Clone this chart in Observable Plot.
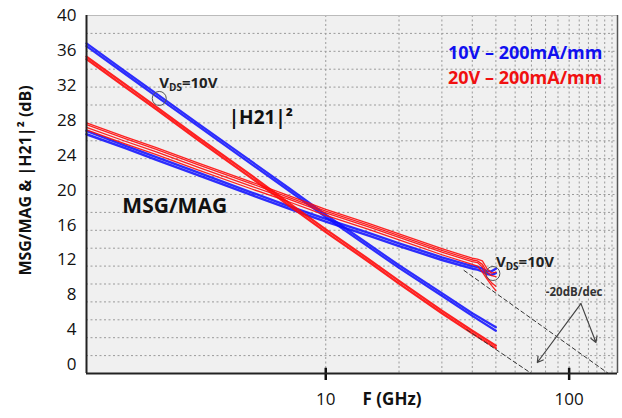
<!DOCTYPE html>
<html><head><meta charset="utf-8">
<script src="https://cdn.jsdelivr.net/npm/d3@7"></script>
<script src="https://cdn.jsdelivr.net/npm/@observablehq/plot@0.6"></script>
<style>
body{margin:0;background:#fff;}
#chart{width:622px;height:418px;}
</style></head><body><div id="chart"></div>
<script>
// ---- axes / ticks ----
const xDomain = [1.04, 158];
const yDomain = [-1, 40];
const yTicks = [0, 4, 8, 12, 16, 20, 24, 28, 32, 36, 40];
const xTicks = [10, 100];
const xGridValues = [10, 20, 30, 40, 50, 60, 70, 80, 90, 100, 110, 120, 130, 140, 150];

// ---- |H21|^2 curves ----
const freqH21 = [1.04, 1.5, 2, 3, 5, 7, 10, 15, 20, 30, 40, 50];
const h21_10V_a = [36.5, 33.3, 30.8, 27.3, 22.9, 20.0, 16.9, 13.5, 11.1, 7.9, 5.6, 3.9];
const h21_10V_b = [36.8, 33.6, 31.1, 27.6, 23.2, 20.3, 17.2, 13.8, 11.4, 8.2, 5.9, 4.3];
const h21_20V_a = [35.0, 31.8, 29.3, 25.7, 21.3, 18.3, 15.2, 11.8, 9.3, 5.9, 3.6, 1.9];
const h21_20V_b = [35.3, 32.1, 29.6, 26.0, 21.6, 18.6, 15.5, 12.1, 9.6, 6.2, 3.9, 2.2];

// ---- MSG/MAG curves ----
const freqMSG = [1.04, 1.5, 2, 3, 5, 7, 10, 15, 20, 30, 40, 42, 44, 46, 48, 50];
const msg_10V_a = [26.4, 24.8, 23.5, 21.7, 19.4, 17.9, 16.4, 14.8, 13.6, 12.0, 11.0, 10.9, 10.7, 10.4, 10.3, 10.5];
const msg_10V_b = [26.8, 25.1, 23.8, 22.0, 19.7, 18.2, 16.7, 15.1, 13.9, 12.3, 11.3, 11.2, 11.0, 10.7, 10.7, 11.0];
const msg_20V_a = [26.9, 25.3, 24.1, 22.3, 20.1, 18.7, 17.1, 15.5, 14.3, 12.6, 11.5, 11.3, 10.6, 9.8, 9.1, 8.5];
const msg_20V_b = [27.2, 25.6, 24.4, 22.6, 20.4, 19.0, 17.4, 15.8, 14.6, 12.9, 11.8, 11.7, 11.2, 10.0, 9.4, 9.0];
const msg_20V_c = [27.5, 25.9, 24.7, 22.9, 20.7, 19.2, 17.6, 16.0, 14.8, 13.1, 12.0, 11.9, 11.5, 10.6, 10.2, 10.1];
const msg_20V_d = [27.7, 26.1, 24.9, 23.1, 20.9, 19.4, 17.8, 16.2, 15.0, 13.3, 12.2, 12.1, 11.9, 11.0, 10.5, 10.6];

// ---- -20 dB/dec guide lines ----
const guideFreq = [[37, 145], [38, 70]];
const guideVal = [[10.8, -1], [4.0, -1]];

// ---- annotations ----
const legendText = ["10V \u2013 200mA/mm", "20V \u2013 200mA/mm"];
const legendColor = ["#1010f0", "#f01010"];

function rows(freq, vals, trace) {
  return freq.map((f, i) => ({f, v: vals[i], trace}));
}
const h21Blue = [...rows(freqH21, h21_10V_a, "a"), ...rows(freqH21, h21_10V_b, "b")];
const h21Red = [...rows(freqH21, h21_20V_a, "a"), ...rows(freqH21, h21_20V_b, "b")];
const msgBlue = [...rows(freqMSG, msg_10V_a, "a"), ...rows(freqMSG, msg_10V_b, "b")];
const msgRed = [...rows(freqMSG, msg_20V_a, "a"), ...rows(freqMSG, msg_20V_b, "b"),
                ...rows(freqMSG, msg_20V_c, "c"), ...rows(freqMSG, msg_20V_d, "d")];
const guides = guideFreq.flatMap((fs, k) => fs.map((f, i) => ({f, v: guideVal[k][i], id: k})));

const yGrid = d3.range(1, 20).map(k => yDomain[0] + k * (yDomain[1] - yDomain[0]) / 20);

const blue = "#0a0aff";
const red = "#ff0a0a";
const font = "Open Sans";

const chart = Plot.plot({
  width: 622, height: 418,
  marginLeft: 86, marginRight: 5, marginTop: 15, marginBottom: 45,
  style: {fontFamily: font, background: "white", color: "#111", overflow: "visible"},
  x: {type: "log", domain: xDomain},
  y: {domain: yDomain},
  marks: [
    Plot.frame({fill: "#f0f0f0", stroke: null}),
    Plot.ruleY(yGrid, {stroke: "#9a9a9a", strokeDasharray: "2,2.5", strokeWidth: 1}),
    Plot.ruleX(xGridValues, {stroke: "#9a9a9a", strokeDasharray: "2,2.5", strokeWidth: 1}),
    Plot.axisY({ticks: yTicks, tickSize: 0, tickPadding: 10, fontSize: 17, label: null}),
    Plot.axisX({ticks: xTicks, tickSize: 0, tickPadding: 19, fontSize: 17, label: null, tickFormat: d => String(d)}),
    Plot.ruleX(xTicks, {y1: yDomain[0] - 0.8, y2: yDomain[0] + 0.6, stroke: "#111", strokeWidth: 2.5}),
    // curves
    Plot.line(msgBlue, {x: "f", y: "v", z: "trace", stroke: blue, strokeWidth: 2.4, strokeOpacity: 0.85}),
    Plot.line(h21Blue, {x: "f", y: "v", z: "trace", stroke: blue, strokeWidth: 2.2, strokeOpacity: 0.85}),
    Plot.line(h21Red, {x: "f", y: "v", z: "trace", stroke: red, strokeWidth: 2.2, strokeOpacity: 0.9}),
    Plot.line(msgRed, {x: "f", y: "v", z: "trace", stroke: red, strokeWidth: 1.3, strokeOpacity: 0.9}),
    // guides
    Plot.line(guides, {x: "f", y: "v", z: "id", stroke: "#333", strokeWidth: 1, strokeDasharray: "4,3"}),
    Plot.arrow([{x1: 111.8, y1: 7.0, x2: 74, y2: 0.26}, {x1: 111.8, y1: 7.0, x2: 128.9, y2: 2.55}],
      {x1: "x1", y1: "y1", x2: "x2", y2: "y2", stroke: "#444", strokeWidth: 1.2, headLength: 8}),
    Plot.text(["-20dB/dec"], {x: 104.8, y: 8.3, fontSize: 11.5, fontWeight: "bold", fill: "#333", textAnchor: "middle"}),
    // VDS markers
    Plot.dot([{f: 2.07, v: 30.5}, {f: 48.6, v: 10.45}], {x: "f", y: "v", r: 7, stroke: "#555", strokeWidth: 1, fill: "none"}),
    Plot.text([{f: 2.07, v: 32.2}, {f: 50, v: 11.7}], {x: "f", y: "v", text: () => "VDS=10V", fontSize: 15, fontWeight: "bold", fill: "#222", textAnchor: "start"}),
    // labels
    Plot.text(["|H21|\u00b2"], {x: 3.99, y: 28.3, fontSize: 19, fontWeight: "bold", fill: "#111", textAnchor: "start"}),
    Plot.text(["MSG/MAG"], {x: 1.46, y: 18.2, fontSize: 21, fontWeight: "bold", fill: "#111", textAnchor: "start"}),
    Plot.text(legendText, {x: 31.8, y: [35.65, 32.8], fill: legendColor, fontSize: 18, fontWeight: "bold", textAnchor: "start"}),
    // frame borders
    Plot.ruleY([yDomain[1]], {stroke: "#bbb", strokeWidth: 1}),
    Plot.ruleX([xDomain[1]], {stroke: "#555", strokeWidth: 1.5}),
    Plot.ruleX([xDomain[0]], {stroke: "#222", strokeWidth: 2}),
    Plot.ruleY([yDomain[0]], {stroke: "#222", strokeWidth: 2}),
    // axis titles
    Plot.text(["MSG/MAG & |H21|\u00b2 (dB)"], {frameAnchor: "left", textAnchor: "middle", dx: -61, dy: -14, rotate: -90, fontSize: 16, fontWeight: "bold", fill: "#111"}),
    Plot.text(["F (GHz)"], {frameAnchor: "bottom", dx: 40, dy: 31, fontSize: 17, fontWeight: "bold", fill: "#111"})
  ]
});

// subscript "DS" in the V_DS annotations
d3.select(chart).selectAll("text").each(function() {
  if (this.textContent === "VDS=10V") {
    const t = d3.select(this);
    t.text(null);
    t.append("tspan").text("V");
    t.append("tspan").attr("font-size", 10).attr("dy", 3).text("DS");
    t.append("tspan").attr("dy", -3).text("=10V");
  }
});

document.getElementById("chart").appendChild(chart);
</script>
</body></html>
